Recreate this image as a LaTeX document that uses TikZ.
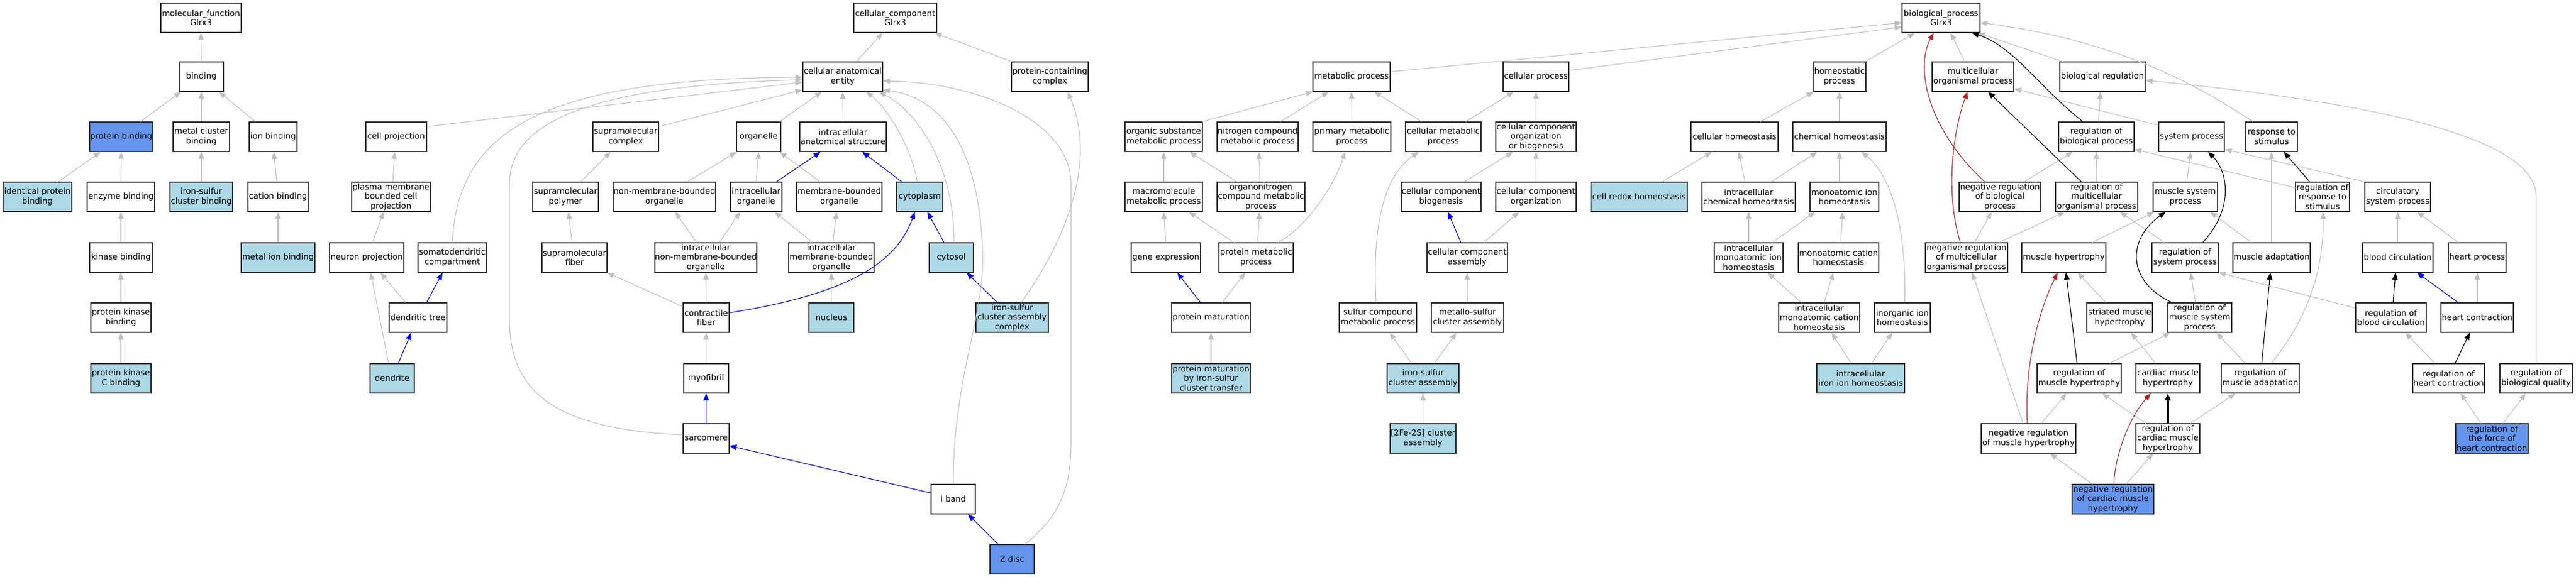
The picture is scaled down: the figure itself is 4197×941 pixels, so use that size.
\documentclass[tikz,border=0pt]{standalone}
\usepackage{fontspec}
\setmainfont{DejaVu Sans}
\usetikzlibrary{arrows.meta}
\definecolor{edgegray}{RGB}{192,192,192}
\definecolor{lbcol}{RGB}{173,216,230}
\definecolor{cbcol}{RGB}{100,149,237}
\definecolor{redcol}{RGB}{178,34,34}
\definecolor{bordercol}{RGB}{45,45,45}
\newcommand\gvfont{\fontsize{13.3}{15.4}\selectfont}
\newcommand\gedge[5][e]{\draw[#1] ([xshift=#3pt]#2.north) -- ([xshift=#5pt]#4.south);}
\tikzset{
  box/.style={rectangle, draw=bordercol, line width=1.2pt, fill=white, minimum height=48pt, inner sep=0pt, align=center, font=\gvfont},
  lb/.style={box, fill=lbcol},
  cb/.style={box, fill=cbcol},
  e/.style={draw=edgegray, line width=1.1pt, -{Triangle[length=11.5pt,width=9pt]}},
  eb/.style={e, draw=blue},
  er/.style={e, draw=redcol},
  ek/.style={e, draw=black},
  ekk/.style={e, draw=black, line width=3pt},
}
\begin{document}
\begin{tikzpicture}[x=1pt,y=-1pt]
\fill[white] (0,0) rectangle (4197,941);
\useasboundingbox (0,0) rectangle (4197,941);
% ---------------- molecular function ----------------
\node[box,minimum width=131pt] (mf) at (327.5,29) {molecular\_function\\Glrx3};
\node[box,minimum width=72pt] (binding) at (328,125) {binding};
\node[cb,minimum width=103pt] (protbind) at (197.5,223) {protein binding};
\node[box,minimum width=92pt] (metalclus) at (328,223) {metal cluster\\binding};
\node[box,minimum width=78pt] (ionbind) at (445,223) {ion binding};
\node[lb,minimum width=112pt] (identprot) at (61,321) {identical protein\\binding};
\node[box,minimum width=110pt] (enzbind) at (197,321) {enzyme binding};
\node[lb,minimum width=102pt] (ironsulbind) at (328,321) {iron-sulfur\\cluster binding};
\node[box,minimum width=98pt] (cationbind) at (453,321) {cation binding};
\node[box,minimum width=102pt] (kinbind) at (197,420) {kinase binding};
\node[lb,minimum width=120pt] (metalion) at (453,420) {metal ion binding};
\node[box,minimum width=98pt] (pkbind) at (197,518) {protein kinase\\binding};
\node[lb,minimum width=98pt] (pkcbind) at (197,617) {protein kinase\\C binding};
% ---------------- cellular component ----------------
\node[box,minimum width=99pt] (cellproj) at (645.5,223) {cell projection};
\node[box,minimum width=128pt] (pmbcp) at (637,321) {plasma membrane\\bounded cell\\projection};
\node[box,minimum width=121pt] (neuronproj) at (597.5,420) {neuron projection};
\node[box,minimum width=112pt] (somato) at (737,420) {somatodendritic\\compartment};
\node[box,minimum width=94pt] (dendtree) at (681,518) {dendritic tree};
\node[lb,minimum width=72pt] (dendrite) at (639,617) {dendrite};
\node[box,minimum width=107pt] (supcomplex) at (1019.5,223) {supramolecular\\complex};
\node[box,minimum width=107pt] (suppolymer) at (921.5,321) {supramolecular\\polymer};
\node[box,minimum width=167pt] (nonmemb) at (1082.5,321) {non-membrane-bounded\\organelle};
\node[box,minimum width=106pt] (supfiber) at (936,420) {supramolecular\\fiber};
\node[box,minimum width=166pt] (intranonmemb) at (1150,420) {intracellular\\non-membrane-bounded\\organelle};
\node[box,minimum width=75pt] (contractile) at (1150.5,518) {contractile\\fiber};
\node[box,minimum width=73pt] (myofibril) at (1150.5,617) {myofibril};
\node[box,minimum width=75pt] (sarcomere) at (1150.5,715) {sarcomere};
\node[box,minimum width=135pt] (ccroot) at (1458.5,29) {cellular\_component\\Glrx3};
\node[box,minimum width=130pt] (cae) at (1373,125) {cellular anatomical\\entity};
\node[box,minimum width=125pt] (protcontcomplex) at (1710.5,125) {protein-containing\\complex};
\node[box,minimum width=72pt] (organelle) at (1236,223) {organelle};
\node[box,minimum width=141pt] (ias) at (1373.5,223) {intracellular\\anatomical structure};
\node[box,minimum width=84pt] (intraorg) at (1232,321) {intracellular\\organelle};
\node[box,minimum width=139pt] (membbounded) at (1367.5,321) {membrane-bounded\\organelle};
\node[lb,minimum width=75pt] (cytoplasm) at (1498.5,321) {cytoplasm};
\node[box,minimum width=139pt] (intramemb) at (1354.5,420) {intracellular\\membrane-bounded\\organelle};
\node[lb,minimum width=72pt] (cytosol) at (1550,420) {cytosol};
\node[lb,minimum width=73pt] (nucleus) at (1354.5,518) {nucleus};
\node[lb,minimum width=118pt] (iscac) at (1649,518) {iron-sulfur\\cluster assembly\\complex};
\node[box,minimum width=72pt] (iband) at (1553,814) {I band};
\node[cb,minimum width=72pt] (zdisc) at (1649,912) {Z disc};
% ---------------- biological process ----------------
\node[box,minimum width=126pt] (metabolic) at (2202,125) {metabolic process};
\node[box,minimum width=126pt] (orgsubst) at (1896,223) {organic substance\\metabolic process};
\node[box,minimum width=132pt] (nitrogen) at (2049,223) {nitrogen compound\\metabolic process};
\node[box,minimum width=127pt] (primary) at (2202.5,223) {primary metabolic\\process};
\node[box,minimum width=123pt] (cellmetab) at (2351.5,223) {cellular metabolic\\process};
\node[box,minimum width=126pt] (macromol) at (1896,321) {macromolecule\\metabolic process};
\node[box,minimum width=143pt] (organonitrogen) at (2054.5,321) {organonitrogen\\compound metabolic\\process};
\node[box,minimum width=130pt] (ccbiogenesis) at (2348,321) {cellular component\\biogenesis};
\node[box,minimum width=113pt] (geneexpr) at (1899.5,420) {gene expression};
\node[box,minimum width=121pt] (protmetab) at (2046.5,420) {protein metabolic\\process};
\node[box,minimum width=131pt] (ccassembly) at (2390.5,420) {cellular component\\assembly};
\node[box,minimum width=128pt] (protmat) at (1973,518) {protein maturation};
\node[box,minimum width=126pt] (sulfur) at (2245,518) {sulfur compound\\metabolic process};
\node[box,minimum width=118pt] (metallosulfur) at (2391,518) {metallo-sulfur\\cluster assembly};
\node[lb,minimum width=128pt] (protmatis) at (1973,617) {protein maturation\\by iron-sulfur\\cluster transfer};
\node[lb,minimum width=117pt] (isca) at (2318.5,617) {iron-sulfur\\cluster assembly};
\node[lb,minimum width=107pt] (fe2s2) at (2318.5,715) {{[2Fe-2S]} cluster\\assembly};
\node[box,minimum width=107pt] (cellproc) at (2502.5,125) {cellular process};
\node[box,minimum width=131pt] (ccoob) at (2502.5,223) {cellular component\\organization\\or biogenesis};
\node[box,minimum width=131pt] (ccorg) at (2502.5,321) {cellular component\\organization};
\node[lb,minimum width=157pt] (redox) at (2670.5,321) {cell redox homeostasis};
\node[box,minimum width=142pt] (cellhomeo) at (2826,223) {cellular homeostasis};
\node[box,minimum width=152pt] (intrachem) at (2849,321) {intracellular\\chemical homeostasis};
\node[box,minimum width=112pt] (intraion) at (2849,420) {intracellular\\monoatomic ion\\homeostasis};
\node[box,minimum width=86pt] (homeostatic) at (2997,125) {homeostatic\\process};
\node[box,minimum width=152pt] (chemhomeo) at (2997,223) {chemical homeostasis};
\node[box,minimum width=112pt] (monoion) at (3005,321) {monoatomic ion\\homeostasis};
\node[box,minimum width=131pt] (monocation) at (2995.5,420) {monoatomic cation\\homeostasis};
\node[box,minimum width=132pt] (intracation) at (2964,518) {intracellular\\monoatomic cation\\homeostasis};
\node[box,minimum width=91pt] (inorganic) at (3099.5,518) {inorganic ion\\homeostasis};
\node[lb,minimum width=143pt] (intrairon) at (3031.5,617) {intracellular\\iron ion homeostasis};
\node[box,minimum width=127pt] (bproot) at (3162.5,29) {biological\_process\\Glrx3};
\node[box,minimum width=133pt] (mop) at (3214.5,125) {multicellular\\organismal process};
\node[box,minimum width=139pt] (bioreg) at (3425.5,125) {biological regulation};
\node[box,minimum width=123pt] (regbp) at (3415.5,223) {regulation of\\biological process};
\node[box,minimum width=107pt] (sysproc) at (3570.5,223) {system process};
\node[box,minimum width=84pt] (respstim) at (3701,223) {response to\\stimulus};
\node[box,minimum width=133pt] (negregbp) at (3258.5,321) {negative regulation\\of biological\\process};
\node[box,minimum width=134pt] (regmop) at (3416,321) {regulation of\\multicellular\\organismal process};
\node[box,minimum width=105pt] (muscsys) at (3560.5,321) {muscle system\\process};
\node[box,minimum width=88pt] (regresp) at (3784,321) {regulation of\\response to\\stimulus};
\node[box,minimum width=107pt] (circ) at (3906.5,321) {circulatory\\system process};
\node[box,minimum width=134pt] (negregmop) at (3204,420) {negative regulation\\of multicellular\\organismal process};
\node[box,minimum width=137pt] (muschyp) at (3362.5,420) {muscle hypertrophy};
\node[box,minimum width=108pt] (regsys) at (3560,420) {regulation of\\system process};
\node[box,minimum width=126pt] (muscadapt) at (3701,420) {muscle adaptation};
\node[box,minimum width=115pt] (bloodcirc) at (3906.5,420) {blood circulation};
\node[box,minimum width=94pt] (heartproc) at (4036,420) {heart process};
\node[box,minimum width=107pt] (striated) at (3453.5,518) {striated muscle\\hypertrophy};
\node[box,minimum width=104pt] (regmuscsys) at (3584,518) {regulation of\\muscle system\\process};
\node[box,minimum width=115pt] (regblood) at (3895.5,518) {regulation of\\blood circulation};
\node[box,minimum width=118pt] (heartcon) at (4036,518) {heart contraction};
\node[box,minimum width=137pt] (regmuschyp) at (3387.5,617) {regulation of\\muscle hypertrophy};
\node[box,minimum width=104pt] (cardhyp) at (3532,617) {cardiac muscle\\hypertrophy};
\node[box,minimum width=127pt] (regmuscadapt) at (3682.5,617) {regulation of\\muscle adaptation};
\node[box,minimum width=117pt] (regheart) at (3989.5,617) {regulation of\\heart contraction};
\node[box,minimum width=118pt] (regbioqual) at (4132,617) {regulation of\\biological quality};
\node[box,minimum width=154pt] (negregmuschyp) at (3305,715) {negative regulation\\of muscle hypertrophy};
\node[box,minimum width=104pt] (regcardhyp) at (3532,715) {regulation of\\cardiac muscle\\hypertrophy};
\node[cb,minimum width=118pt] (regforce) at (4060,715) {regulation of\\the force of\\heart contraction};
\node[cb,minimum width=133pt] (negregcard) at (3442.5,814) {negative regulation\\of cardiac muscle\\hypertrophy};
% ================= edges: molecular function =================
\gedge{binding}{0}{mf}{0}
\gedge{protbind}{31.5}{binding}{-33}
\gedge{metalclus}{0}{binding}{0}
\gedge{ionbind}{-29}{binding}{29}
\gedge{identprot}{34}{protbind}{-33.5}
\gedge{enzbind}{0}{protbind}{0}
\gedge{ironsulbind}{0}{metalclus}{0}
\gedge{cationbind}{-2}{ionbind}{1}
\gedge{kinbind}{0}{enzbind}{0}
\gedge{metalion}{0}{cationbind}{0}
\gedge{pkbind}{0}{kinbind}{0}
\gedge{pkcbind}{0}{pkbind}{0}
% ================= edges: cellular component =================
\gedge{pmbcp}{3}{cellproj}{-2.5}
\gedge{neuronproj}{9.5}{pmbcp}{-12}
\gedge{dendtree}{-20}{neuronproj}{22.5}
\gedge[eb]{dendtree}{14}{somato}{-16}
\gedge{dendrite}{-6}{neuronproj}{6.5}
\gedge[eb]{dendrite}{10}{dendtree}{-11}
\gedge{suppolymer}{24.5}{supcomplex}{-24.5}
\gedge{supfiber}{-4}{suppolymer}{4.5}
\gedge{nonmemb}{37.5}{organelle}{-36}
\gedge{intranonmemb}{-15}{nonmemb}{17.5}
\gedge{intranonmemb}{22}{intraorg}{-26}
\gedge{contractile}{0}{intranonmemb}{0}
\draw[e] ([yshift=18pt]contractile.west) -- ([xshift=53pt]supfiber.south);
\gedge{myofibril}{0}{contractile}{0}
\gedge[eb]{sarcomere}{0}{myofibril}{0}
\draw[eb] ([yshift=10pt]iband.west) -- ([yshift=-12pt]sarcomere.east);
\gedge[eb]{zdisc}{-23}{iband}{24}
\gedge{cae}{22}{ccroot}{-20.5}
\gedge{protcontcomplex}{-62}{ccroot}{64}
\gedge{organelle}{34}{cae}{-34}
\gedge{ias}{0}{cae}{0}
\gedge{intraorg}{0}{organelle}{0}
\gedge[eb]{intraorg}{33}{ias}{-36.5}
\gedge{membbounded}{-31.5}{organelle}{34}
\gedge[eb]{cytoplasm}{-29.5}{ias}{31.5}
\gedge{intramemb}{-30.5}{intraorg}{30}
\gedge{intramemb}{2.5}{membbounded}{-4.5}
\gedge{nucleus}{0}{intramemb}{0}
\gedge[eb]{cytosol}{-12}{cytoplasm}{12.5}
\gedge[eb]{iscac}{-24}{cytosol}{25}
\draw[e] ([yshift=-8pt]cellproj.north east) -- ([yshift=-9pt]cae.west);
\draw[e] ([yshift=-8pt]supcomplex.north east) -- ([yshift=3pt]cae.south west);
\draw[e] (somato.north) .. controls (745,215) and (880,128) .. ([yshift=-1pt]cae.west);
\draw[e] ([yshift=6pt]sarcomere.west) .. controls (890,700) and (830,630) .. (830,520) -- (830,300) .. controls (830,200) and (960,140) .. ([yshift=-5pt]cae.west);
\draw[e] ([xshift=-4pt]cytoplasm.north) .. controls (1485,240) and (1445,175) .. ([xshift=38pt]cae.south);
\draw[e] ([xshift=4pt]cytosol.north) .. controls (1556,280) and (1500,185) .. ([xshift=59pt]cae.south);
\draw[e] (iband.north) .. controls (1553,620) and (1602,520) .. (1601,420) .. controls (1598,250) and (1540,160) .. ([yshift=3pt]cae.south east);
\draw[e] ([xshift=21pt]zdisc.north) .. controls (1730,840) and (1745,790) .. (1745,720) -- (1745,300) .. controls (1745,200) and (1600,135) .. ([yshift=-7pt]cae.east);
\draw[e] ([xshift=15pt]iscac.north) .. controls (1730,400) and (1790,270) .. ([xshift=29pt]protcontcomplex.south);
\draw[eb] ([yshift=8pt]contractile.east) .. controls (1380,480) and (1460,430) .. ([xshift=-8pt]cytoplasm.south);
% ================= edges: biological process =================
\gedge{orgsubst}{63}{metabolic}{-63}
\gedge{nitrogen}{37}{metabolic}{-37}
\gedge{primary}{0}{metabolic}{0}
\gedge{cellmetab}{-35.5}{metabolic}{37}
\gedge{macromol}{0}{orgsubst}{0}
\gedge{organonitrogen}{-39.5}{orgsubst}{42}
\gedge{organonitrogen}{-1.5}{nitrogen}{2}
\gedge{geneexpr}{0}{macromol}{0}
\gedge{protmetab}{-36.5}{macromol}{41}
\gedge{protmetab}{2.5}{organonitrogen}{-2.5}
\gedge[eb]{protmat}{-17}{geneexpr}{18.5}
\gedge{protmat}{18}{protmetab}{-17.5}
\gedge{protmatis}{0}{protmat}{0}
\gedge{isca}{-18.5}{sulfur}{19}
\gedge{isca}{18.5}{metallosulfur}{-18}
\gedge{fe2s2}{0}{isca}{0}
\gedge{metallosulfur}{0}{ccassembly}{0}
\gedge[eb]{ccassembly}{-10.5}{ccbiogenesis}{11}
\gedge{ccassembly}{27.5}{ccorg}{-27.5}
\gedge{ccbiogenesis}{38}{ccoob}{-37.5}
\gedge{ccorg}{0}{ccoob}{0}
\gedge{ccoob}{0}{cellproc}{0}
\gedge{cellmetab}{36.5}{cellproc}{-36.5}
\draw[e] ([xshift=36pt]protmetab.north) .. controls (2130,370) and (2175,300) .. ([xshift=-11pt]primary.south);
\draw[e] ([xshift=-3pt]sulfur.north) .. controls (2236,380) and (2250,290) .. ([xshift=-40pt]cellmetab.south);
\draw[e] ([yshift=8pt]metabolic.east) -- ([yshift=-8pt]bproot.west);
\draw[e] ([yshift=10pt]cellproc.east) -- ([yshift=-15pt]bproot.west);
\gedge{redox}{37.5}{cellhomeo}{-37}
\gedge{intrachem}{-6}{cellhomeo}{7}
\gedge{intrachem}{37}{chemhomeo}{-36}
\gedge{cellhomeo}{42}{homeostatic}{-42}
\gedge{intraion}{0}{intrachem}{0}
\gedge{intraion}{39}{monoion}{-48}
\gedge{intracation}{-29}{intraion}{31}
\gedge{intracation}{8}{monocation}{-8.5}
\gedge{monocation}{3.5}{monoion}{-3}
\gedge{monoion}{-8}{chemhomeo}{0}
\gedge{chemhomeo}{0}{homeostatic}{0}
\gedge{homeostatic}{42}{bproot}{-42.5}
\gedge{intrairon}{-15.5}{intracation}{20}
\gedge{intrairon}{17.5}{inorganic}{-16.5}
\draw[e] ([xshift=4pt]inorganic.north) .. controls (3106,380) and (3085,290) .. ([xshift=36pt]chemhomeo.south);
\gedge{mop}{-13.5}{bproot}{15.5}
\gedge{bioreg}{-65}{bproot}{60}
\gedge{regbp}{3.5}{bioreg}{-3.5}
\gedge{negregbp}{39.5}{regbp}{-38.5}
\gedge[ek]{regmop}{-25}{mop}{24.5}
\gedge{regmop}{0}{regbp}{0}
\gedge{negregmop}{13}{negregbp}{-13.5}
\gedge{negregmop}{53}{regmop}{-52}
\gedge{muscsys}{2.5}{sysproc}{-1.5}
\gedge{muschyp}{46.5}{muscsys}{-50.5}
\gedge{regsys}{-34}{regmop}{38}
\gedge{regmuscsys}{-7}{regsys}{9}
\gedge{muscadapt}{-33}{muscsys}{40.5}
\gedge{muscadapt}{0}{respstim}{0}
\gedge[ek]{regresp}{-21}{respstim}{20}
\gedge{striated}{-22.5}{muschyp}{22.5}
\gedge[ek]{regmuschyp}{-3.5}{muschyp}{3.5}
\gedge{regmuschyp}{49.5}{regmuscsys}{-48}
\gedge{cardhyp}{-20}{striated}{18.5}
\gedge{negregmuschyp}{-9}{negregmop}{9}
\gedge{negregmuschyp}{21}{regmuschyp}{-20.5}
\gedge[ekk]{regcardhyp}{0}{cardhyp}{0}
\gedge{regcardhyp}{-36}{regmuschyp}{37.5}
\gedge{regcardhyp}{37}{regmuscadapt}{-40.5}
\gedge{negregcard}{-33.5}{negregmuschyp}{35}
\gedge{negregcard}{21.5}{regcardhyp}{-24}
\gedge[ek]{regmuscadapt}{2.5}{muscadapt}{-2}
\gedge{regmuscadapt}{-24.5}{regmuscsys}{27}
\gedge{bloodcirc}{0}{circ}{0}
\gedge{heartproc}{-31}{circ}{31.5}
\gedge[ek]{regblood}{3.5}{bloodcirc}{-3.5}
\gedge[eb]{heartcon}{-31}{bloodcirc}{31.5}
\gedge{heartcon}{0}{heartproc}{0}
\gedge[ek]{regheart}{10.5}{heartcon}{-12}
\gedge{regheart}{-22.5}{regblood}{23.5}
\gedge{regforce}{-18}{regheart}{19.5}
\gedge{regforce}{18}{regbioqual}{-17}
\draw[e] ([yshift=-6pt]sysproc.north west) -- ([yshift=5pt]mop.south east);
\draw[e] ([yshift=15pt]regresp.west) -- ([yshift=4pt]regbp.south east);
\draw[e] (circ.north west) -- ([yshift=4pt]sysproc.south east);
\draw[e] ([yshift=-9pt]regblood.north west) -- (regsys.south east);
\draw[ek] ([xshift=-22pt]regbp.north) .. controls (3320,140) and (3280,75) .. ([xshift=50pt]bproot.south);
\draw[er] ([xshift=-25pt]negregbp.north) .. controls (3140,210) and (3120,110) .. ([xshift=-12pt]bproot.south);
\draw[er] ([xshift=-10pt]negregmop.north) .. controls (3170,320) and (3180,220) .. ([xshift=-9pt]mop.south);
\draw[e] ([xshift=-30pt]respstim.north) .. controls (3610,160) and (3480,70) .. ([yshift=-8pt]bproot.east);
\draw[ek] ([xshift=29pt]regsys.north) .. controls (3640,340) and (3630,280) .. ([xshift=27pt]sysproc.south);
\draw[ek] ([xshift=-45pt]regmuscsys.north) .. controls (3465,460) and (3465,390) .. ([xshift=-32pt]muscsys.south);
\draw[er] ([xshift=-2pt]negregmuschyp.north) .. controls (3298,600) and (3320,510) .. ([xshift=-10pt]muschyp.south);
\draw[er] ([xshift=1.5pt]negregcard.north) .. controls (3446,740) and (3470,680) .. ([xshift=-28pt]cardhyp.south);
\draw[e] ([xshift=18pt]regmuscadapt.north) .. controls (3760,520) and (3786,440) .. ([xshift=1pt]regresp.south);
\draw[e] (regbioqual.north) -- (4132,320) .. controls (4132,230) and (3900,170) .. ([yshift=-6pt]bioreg.east);
\end{tikzpicture}
\end{document}
